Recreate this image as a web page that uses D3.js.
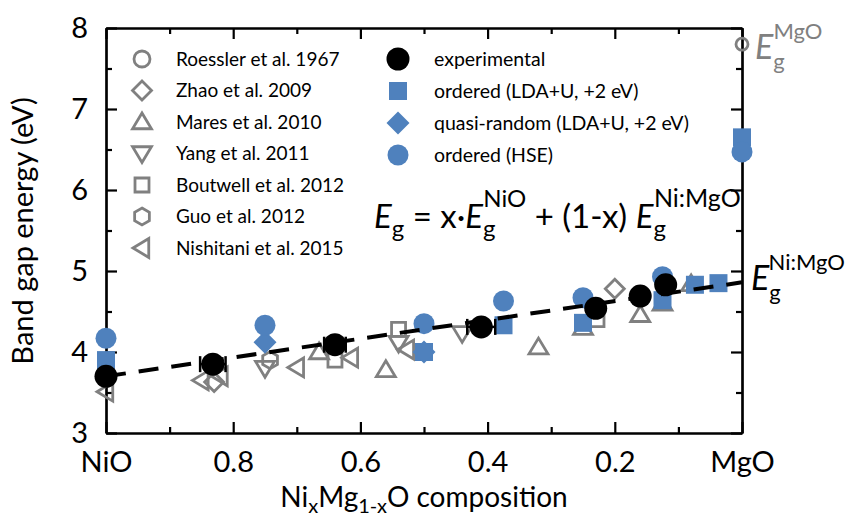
<!DOCTYPE html>
<html>
<head>
<meta charset="utf-8">
<script src="https://cdn.jsdelivr.net/npm/d3@7"></script>
<style>
body{margin:0;background:#fff;}
svg text{font-family:Lato,"Open Sans",sans-serif;}
</style>
</head>
<body>
<div id="chart"></div>
<script>
// band gap vs composition, Ni(x)Mg(1-x)O
var W=845,H=519;
var margin={top:28,right:103,bottom:86,left:106};

// literature data (gray, hollow)
var roesslerX=[0], roesslerE=[7.80];
var zhaoX=[0.83,0.20], zhaoE=[3.63,4.78];
var maresX=[0.665,0.56,0.32,0.25,0.16,0.125,0.08], maresE=[4.00,3.78,4.06,4.30,4.46,4.60,4.84];
var yangX=[0.75,0.54,0.44], yangE=[3.80,4.11,4.23];
var boutwellX=[0.64,0.54,0.228], boutwellE=[3.90,4.28,4.40];
var guoX=[0.742], guoE=[3.90];
var nishitaniX=[1.0,0.85,0.82,0.70,0.615,0.527], nishitaniE=[3.51,3.65,3.70,3.81,3.93,4.03];

// this work
var expX=[1.0,0.832,0.64,0.41,0.23,0.16,0.12], expE=[3.70,3.85,4.09,4.31,4.54,4.69,4.83];
var expXerr=[0,0.02,0.017,0.022,0,0,0];
var ldaX=[1.0,0.5,0.375,0.25,0.125,0.074,0.037,0], ldaE=[3.90,4.00,4.33,4.36,4.64,4.83,4.85,6.65];
var sqsX=[0.75,0.5], sqsE=[4.12,4.00];
var hseX=[1.0,0.75,0.5,0.375,0.25,0.125,0], hseE=[4.17,4.33,4.35,4.63,4.67,4.93,6.47];

// linear interpolation line
var lineX=[1,0], lineE=[3.70,4.86];

var xMajor=[1,0.8,0.6,0.4,0.2,0], xMinor=[0.9,0.7,0.5,0.3,0.1];
var yMajor=[3,4,5,6,7,8], yMinor=[3.5,4.5,5.5,6.5,7.5];

var gray="#808080", blue="#4F81BD";

var w=W-margin.left-margin.right, h=H-margin.top-margin.bottom;
var svg=d3.select("#chart").append("svg").attr("width",W).attr("height",H);
var g=svg.append("g").attr("transform",`translate(${margin.left},${margin.top})`);

var x=d3.scaleLinear().domain([1,0]).range([0,w]);
var y=d3.scaleLinear().domain([3,8]).range([h,0]);

// marker shapes
function shape(type,s){
  var r=s/2;
  switch(type){
    case "circle": return d3.symbol(d3.symbolCircle,Math.PI*r*r)();
    case "square": return `M${-r},${-r}H${r}V${r}H${-r}Z`;
    case "diamond": return `M0,${-r}L${r},0L0,${r}L${-r},0Z`;
    case "up": return `M0,${-r}L${r*1.05},${r*0.75}L${-r*1.05},${r*0.75}Z`;
    case "down": return `M0,${r}L${r*1.05},${-r*0.75}L${-r*1.05},${-r*0.75}Z`;
    case "left": return `M${-r},0L${r*0.75},${-r*1.05}L${r*0.75},${r*1.05}Z`;
    case "hex":
      var p=d3.range(6).map(function(i){var a=Math.PI/3*i-Math.PI/2;return [r*Math.cos(a),r*Math.sin(a)];});
      return "M"+p.join("L")+"Z";
  }
}

function hollow(xs,es,type,s){
  g.append("g").selectAll("path").data(xs).enter().append("path")
   .attr("d",shape(type,s))
   .attr("transform",function(d,i){return `translate(${x(d)},${y(es[i])})`;})
   .attr("fill","none").attr("stroke",gray).attr("stroke-width",2.8);
}
function filled(xs,es,type,s,col){
  g.append("g").selectAll("path").data(xs).enter().append("path")
   .attr("d",shape(type,s))
   .attr("transform",function(d,i){return `translate(${x(d)},${y(es[i])})`;})
   .attr("fill",col);
}

// axes, inward ticks
function axisLines(){
  var ax=g.append("g");
  ax.append("g").attr("transform",`translate(0,${h})`)
    .call(d3.axisBottom(x).tickValues(xMajor).tickSizeInner(-11).tickSizeOuter(0)
      .tickPadding(18).tickFormat(function(d){return d===1?"NiO":d===0?"MgO":d3.format(".1f")(d);}));
  ax.append("g").attr("transform",`translate(0,${h})`)
    .call(d3.axisBottom(x).tickValues(xMinor).tickSizeInner(-6).tickSizeOuter(0).tickFormat(""));
  ax.append("g").call(d3.axisTop(x).tickValues(xMajor).tickSizeInner(-11).tickSizeOuter(0).tickFormat(""));
  ax.append("g").call(d3.axisTop(x).tickValues(xMinor).tickSizeInner(-6).tickSizeOuter(0).tickFormat(""));
  ax.append("g").call(d3.axisLeft(y).tickValues(yMajor).tickSizeInner(-11).tickSizeOuter(0).tickPadding(18)
      .tickFormat(d3.format("d")));
  ax.append("g").call(d3.axisLeft(y).tickValues(yMinor).tickSizeInner(-6).tickSizeOuter(0).tickFormat(""));
  ax.append("g").attr("transform",`translate(${w},0)`)
    .call(d3.axisRight(y).tickValues(yMajor).tickSizeInner(-11).tickSizeOuter(0).tickFormat(""));
  ax.append("g").attr("transform",`translate(${w},0)`)
    .call(d3.axisRight(y).tickValues(yMinor).tickSizeInner(-6).tickSizeOuter(0).tickFormat(""));
  ax.selectAll("path,line").attr("stroke","#000").attr("stroke-width",2.2);
  ax.selectAll("text").attr("font-family","Lato").attr("font-size",29).attr("fill","#000");
}
axisLines();

// literature
hollow(roesslerX,roesslerE,"circle",12);
hollow(zhaoX,zhaoE,"diamond",19);
hollow(maresX,maresE,"up",18);
hollow(yangX,yangE,"down",18);
hollow(boutwellX,boutwellE,"square",14);
hollow(guoX,guoE,"hex",17);
hollow(nishitaniX,nishitaniE,"left",18);

// calculations
filled(ldaX,ldaE,"square",18,blue);
filled(sqsX,sqsE,"diamond",23,blue);
filled(hseX,hseE,"circle",21,blue);

// dashed interpolation line
g.append("path").datum(lineX)
 .attr("d",d3.line().x(function(d){return x(d);}).y(function(d,i){return y(lineE[i]);}))
 .attr("fill","none").attr("stroke","#000").attr("stroke-width",4)
 .attr("stroke-dasharray","20,13");

// experimental with x error bars
var eb=g.append("g");
expX.forEach(function(d,i){
  if(expXerr[i]>0){
    var x0=x(d+expXerr[i]),x1=x(d-expXerr[i]),yy=y(expE[i]);
    eb.append("line").attr("x1",x0).attr("x2",x1).attr("y1",yy).attr("y2",yy);
    eb.append("line").attr("x1",x0).attr("x2",x0).attr("y1",yy-8).attr("y2",yy+8);
    eb.append("line").attr("x1",x1).attr("x2",x1).attr("y1",yy-8).attr("y2",yy+8);
  }
});
eb.selectAll("line").attr("stroke","#000").attr("stroke-width",2.5);
filled(expX,expE,"circle",23,"#000");

// legends
var leg1=[["Roessler et al. 1967","circle",16],["Zhao et al. 2009","diamond",19],["Mares et al. 2010","up",18],
  ["Yang et al. 2011","down",18],["Boutwell et al. 2012","square",14],["Guo et al. 2012","hex",17],["Nishitani et al. 2015","left",18]];
var l1=svg.append("g");
leg1.forEach(function(d,i){
  var yy=59+31.5*i;
  l1.append("path").attr("d",shape(d[1],d[2])).attr("transform",`translate(142,${yy})`)
    .attr("fill","none").attr("stroke",gray).attr("stroke-width",2.8);
  l1.append("text").attr("x",176).attr("y",yy).attr("dy","0.35em").attr("font-size",19).text(d[0]);
});
var leg2=[["experimental","circle",23,"#000"],["ordered (LDA+U, +2 eV)","square",18,blue],
  ["quasi-random (LDA+U, +2 eV)","diamond",23,blue],["ordered (HSE)","circle",21,blue]];
var l2=svg.append("g");
leg2.forEach(function(d,i){
  var yy=59+32*i;
  l2.append("path").attr("d",shape(d[1],d[2])).attr("transform",`translate(398,${yy})`).attr("fill",d[3]);
  l2.append("text").attr("x",434).attr("y",yy).attr("dy","0.35em").attr("font-size",19.5).text(d[0]);
});

// equation
var eq=svg.append("text").attr("x",374).attr("y",228).attr("font-size",33).attr("fill","#000");
eq.append("tspan").attr("font-style","italic").text("E");
eq.append("tspan").attr("font-size",24).attr("dy",9).text("g");
eq.append("tspan").attr("dy",-9).text(" = x\u00B7");
eq.append("tspan").attr("font-style","italic").text("E");
eq.append("tspan").attr("font-size",24).attr("dy",9).text("g");
eq.append("tspan").attr("font-size",24).attr("dx",-12).attr("dy",-30).text("NiO");
eq.append("tspan").attr("dy",21).text(" + (1-x) ");
eq.append("tspan").attr("font-style","italic").text("E");
eq.append("tspan").attr("font-size",24).attr("dy",9).text("g");
eq.append("tspan").attr("font-size",25).attr("dx",-12).attr("dy",-30).text("Ni:MgO");

// end labels
var a1=svg.append("text").attr("x",751).attr("y",290).attr("font-size",34).attr("fill","#000");
a1.append("tspan").attr("font-style","italic").text("E");
a1.append("tspan").attr("font-size",22).attr("dy",10).text("g");
a1.append("tspan").attr("font-size",22).attr("dx",-12).attr("dy",-30).text("Ni:MgO");

var a2=svg.append("text").attr("x",755).attr("y",59).attr("font-size",34).attr("fill",gray);
a2.append("tspan").attr("font-style","italic").text("E");
a2.append("tspan").attr("font-size",22).attr("dy",10).text("g");
a2.append("tspan").attr("font-size",22).attr("dx",-11).attr("dy",-30).text("MgO");

// axis titles
svg.append("text").attr("transform","translate(33,231)rotate(-90)").attr("text-anchor","middle")
  .attr("font-size",29).text("Band gap energy (eV)");
var xt=svg.append("text").attr("x",424).attr("y",507).attr("text-anchor","middle").attr("font-size",28);
xt.append("tspan").text("Ni");
xt.append("tspan").attr("font-size",20).attr("dy",6).text("x");
xt.append("tspan").attr("dy",-6).text("Mg");
xt.append("tspan").attr("font-size",20).attr("dy",6).text("1-x");
xt.append("tspan").attr("dy",-6).text("O composition");
</script>
</body>
</html>
